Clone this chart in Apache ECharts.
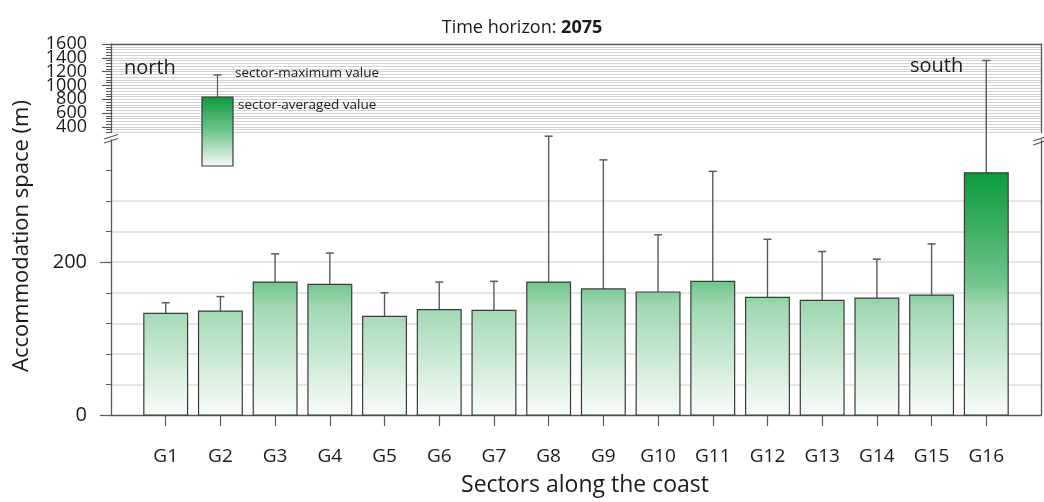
<!DOCTYPE html>
<html>
<head>
<meta charset="utf-8">
<script src="https://cdn.jsdelivr.net/npm/echarts@6/dist/echarts.min.js"></script>
<style>
html,body{margin:0;padding:0;background:#fff;}
#chart{width:1044px;height:502px;}
</style>
</head>
<body>
<div id="chart"></div>
<script>
// ---- data ----
const categories = ['G1','G2','G3','G4','G5','G6','G7','G8','G9','G10','G11','G12','G13','G14','G15','G16'];
const avgValues = [133, 136, 174, 171, 129, 138, 137, 174, 165, 161, 175, 154, 150, 153, 157, 317];
const maxValues = [147, 155, 211, 212, 160, 174, 175, 365, 334, 236, 319, 230, 214, 204, 224, 1360];
const lowerTickValues = [0, 40, 80, 120, 160, 200, 240, 280, 320];
const lowerLabelValues = [0, 200];
const upperLabelValues = [400, 600, 800, 1000, 1200, 1400, 1600];

// ---- layout / axis ranges ----
const LOWER_MIN = 0, LOWER_MAX = 360, LOWER_REACH = 370;
const UPPER_MIN = 320, UPPER_MAX = 1600;
const LEFT = 111, RIGHT = 3;
const UP_TOP = 44, UP_BOTTOM = 132.5;
const LO_TOP = 140, LO_BOTTOM = 416;
const W = 1044, H = 502;

const axisCats = [''].concat(categories, ['']);
const seriesData = categories.map((c, i) => [c, avgValues[i], maxValues[i]]);
const topAvg = Math.max.apply(null, avgValues);

const AXIS_COLOR = '#595959';
const WHISK_COLOR = '#5a5a5a';
const TEXT_COLOR = '#1a1a1a';
const FONT = 'Open Sans';

function capLine(x, y, half) {
  return {type: 'line', shape: {x1: x - half, y1: y, x2: x + half, y2: y},
          style: {stroke: WHISK_COLOR, lineWidth: 1.5}};
}

function renderLower(params, api) {
  const x = api.value(0), avg = api.value(1), mx = api.value(2);
  const p0 = api.coord([x, 0]);
  const pAvg = api.coord([x, avg]);
  const pRef = api.coord([x, topAvg]);
  const w = api.size([1, 0])[0] * 0.8;
  const children = [];
  const reach = Math.min(mx, LOWER_REACH);
  const pMax = api.coord([x, reach]);
  children.push({type: 'line', shape: {x1: p0[0], y1: pAvg[1], x2: p0[0], y2: pMax[1]},
                 style: {stroke: WHISK_COLOR, lineWidth: 1.4}});
  if (mx <= LOWER_REACH) children.push(capLine(p0[0], pMax[1], 4));
  children.push({
    type: 'rect',
    shape: {x: p0[0] - w / 2, y: pAvg[1], width: w, height: p0[1] - pAvg[1]},
    style: {
      fill: {type: 'linear', x: 0, y: p0[1], x2: 0, y2: pRef[1], global: true,
             colorStops: [{offset: 0, color: '#f8fcf9'}, {offset: 0.45, color: '#a0d8b1'},
                          {offset: 0.55, color: '#6fc48c'}, {offset: 1, color: '#0c9a3c'}]},
      stroke: '#3a3a3a', lineWidth: 1.2
    }
  });
  return {type: 'group', children: children};
}

function renderUpper(params, api) {
  const x = api.value(0), mx = api.value(2);
  if (mx <= LOWER_REACH) return {type: 'group', children: []};
  const pb = api.coord([x, UPPER_MIN]);
  const pt = api.coord([x, mx]);
  return {type: 'group', children: [
    {type: 'line', shape: {x1: pb[0], y1: pb[1], x2: pb[0], y2: pt[1]}, style: {stroke: WHISK_COLOR, lineWidth: 1.4}},
    capLine(pb[0], pt[1], 4)
  ]};
}

const tickInterval = function (i) { return i > 0 && i < axisCats.length - 1; };

const chart = echarts.init(document.getElementById('chart'), null, {renderer: 'canvas'});

const option = {
  backgroundColor: '#fff',
  animation: false,
  title: {
    text: '{a|Time horizon: }{b|2075}',
    left: 'center', top: 14,
    textStyle: {fontWeight: 'normal', rich: {
      a: {fontFamily: FONT, fontSize: 18, fontWeight: 'normal', color: TEXT_COLOR},
      b: {fontFamily: FONT, fontSize: 18, fontWeight: 'bold', color: TEXT_COLOR}
    }}
  },
  grid: [
    {left: LEFT, right: RIGHT, top: UP_TOP, height: UP_BOTTOM - UP_TOP},
    {left: LEFT, right: RIGHT, top: LO_TOP, height: LO_BOTTOM - LO_TOP}
  ],
  xAxis: [
    {gridIndex: 0, type: 'category', data: axisCats, boundaryGap: false, position: 'top',
     axisLine: {show: true, lineStyle: {color: AXIS_COLOR, width: 1.3}},
     axisTick: {show: false}, axisLabel: {show: false}, splitLine: {show: false}},
    {gridIndex: 1, type: 'category', data: axisCats, boundaryGap: false, position: 'bottom',
     axisLine: {show: true, lineStyle: {color: AXIS_COLOR, width: 1.3}},
     axisTick: {show: true, interval: tickInterval, length: 11, lineStyle: {color: AXIS_COLOR, width: 1.2}},
     axisLabel: {show: true, interval: tickInterval, margin: 32, fontFamily: FONT, fontSize: 19, color: TEXT_COLOR},
     splitLine: {show: false},
     name: 'Sectors along the coast', nameLocation: 'middle', nameGap: 59,
     nameTextStyle: {fontFamily: FONT, fontSize: 23, color: TEXT_COLOR, padding: [0, 0, 0, 18]}}
  ],
  yAxis: [
    // 0: upper main
    {gridIndex: 0, type: 'value', min: UPPER_MIN, max: UPPER_MAX, interval: 40, position: 'left',
     axisLine: {show: true, lineStyle: {color: AXIS_COLOR, width: 1.3}},
     axisTick: {show: true, length: 5, lineStyle: {color: AXIS_COLOR, width: 1}},
     axisLabel: {show: true, margin: 24, fontFamily: FONT, fontSize: 18, color: TEXT_COLOR, lineHeight: 14,
                 formatter: function (v) { return upperLabelValues.indexOf(v) >= 0 ? String(v) : ''; }},
     splitLine: {show: true, lineStyle: {color: '#d2d2d2', width: 1}}},
    // 1: upper major ticks
    {gridIndex: 0, type: 'value', min: UPPER_MIN, max: UPPER_MAX, position: 'left',
     axisLine: {show: false},
     axisTick: {show: true, length: 9, customValues: upperLabelValues, lineStyle: {color: AXIS_COLOR, width: 1.2}},
     axisLabel: {show: false}, splitLine: {show: false}},
    // 2: upper right frame
    {gridIndex: 0, type: 'value', min: UPPER_MIN, max: UPPER_MAX, position: 'right',
     axisLine: {show: true, lineStyle: {color: AXIS_COLOR, width: 1.3}},
     axisTick: {show: false}, axisLabel: {show: false}, splitLine: {show: false}},
    // 3: lower main
    {gridIndex: 1, type: 'value', min: LOWER_MIN, max: LOWER_MAX, interval: 40, position: 'left',
     axisLine: {show: true, lineStyle: {color: AXIS_COLOR, width: 1.3}},
     axisTick: {show: true, length: 5, customValues: lowerTickValues, lineStyle: {color: AXIS_COLOR, width: 1}},
     axisLabel: {show: true, margin: 24, fontFamily: FONT, fontSize: 20, color: TEXT_COLOR,
                 formatter: function (v) { return lowerLabelValues.indexOf(v) >= 0 ? String(v) : ''; }},
     splitLine: {show: true, showMaxLine: false, showMinLine: false, lineStyle: {color: '#dcdcdc', width: 1.6}}},
    // 4: lower major ticks
    {gridIndex: 1, type: 'value', min: LOWER_MIN, max: LOWER_MAX, position: 'left',
     axisLine: {show: false},
     axisTick: {show: true, length: 11, customValues: lowerLabelValues, lineStyle: {color: AXIS_COLOR, width: 1.2}},
     axisLabel: {show: false}, splitLine: {show: false}},
    // 5: lower right frame
    {gridIndex: 1, type: 'value', min: LOWER_MIN, max: LOWER_MAX, position: 'right',
     axisLine: {show: true, lineStyle: {color: AXIS_COLOR, width: 1.3}},
     axisTick: {show: false}, axisLabel: {show: false}, splitLine: {show: false}}
  ],
  series: [
    {type: 'custom', name: 'upper', xAxisIndex: 0, yAxisIndex: 0, data: seriesData,
     renderItem: renderUpper, encode: {x: 0, y: [2]}, clip: true, z: 3},
    {type: 'custom', name: 'lower', xAxisIndex: 1, yAxisIndex: 3, data: seriesData,
     renderItem: renderLower, encode: {x: 0, y: [1, 2]}, clip: false, z: 3}
  ],
  graphic: {elements: [
    // y-axis title
    {type: 'text', x: 22, y: 236, rotation: Math.PI / 2, z: 100,
     style: {text: 'Accommodation space (m)', fontFamily: FONT, fontSize: 22, fill: TEXT_COLOR,
             align: 'center', verticalAlign: 'middle'}},
    // north / south
    {type: 'text', x: 124, y: 68, z: 100, style: {text: 'north', fontFamily: FONT, fontSize: 20, fill: TEXT_COLOR, verticalAlign: 'middle'}},
    {type: 'text', x: 910, y: 66, z: 100, style: {text: 'south', fontFamily: FONT, fontSize: 20, fill: TEXT_COLOR, verticalAlign: 'middle'}},
    // legend glyph
    {type: 'line', z: 100, shape: {x1: 217.5, y1: 75, x2: 217.5, y2: 97}, style: {stroke: WHISK_COLOR, lineWidth: 1.2}},
    {type: 'line', z: 100, shape: {x1: 213.5, y1: 75, x2: 221.5, y2: 75}, style: {stroke: WHISK_COLOR, lineWidth: 1.5}},
    {type: 'rect', z: 100, shape: {x: 202, y: 97, width: 31, height: 69},
     style: {fill: {type: 'linear', x: 0, y: 0, x2: 0, y2: 1,
                    colorStops: [{offset: 0, color: '#0c9a3c'}, {offset: 0.5, color: '#72c58e'}, {offset: 1, color: '#f8fcf9'}]},
             stroke: '#3a3a3a', lineWidth: 1.2}},
    {type: 'text', x: 235, y: 73, z: 100, style: {text: 'sector-maximum value', fontFamily: FONT, fontSize: 13.5, fill: TEXT_COLOR, verticalAlign: 'middle'}},
    {type: 'text', x: 238, y: 105, z: 100, style: {text: 'sector-averaged value', fontFamily: FONT, fontSize: 13.5, fill: TEXT_COLOR, verticalAlign: 'middle'}},
    // axis break marks
    {type: 'line', z: 100, shape: {x1: 104, y1: 139, x2: 118, y2: 134.5}, style: {stroke: AXIS_COLOR, lineWidth: 1.2}},
    {type: 'line', z: 100, shape: {x1: 104, y1: 143, x2: 118, y2: 138.5}, style: {stroke: AXIS_COLOR, lineWidth: 1.2}},
    {type: 'line', z: 100, shape: {x1: W - RIGHT - 8, y1: 141, x2: W - RIGHT + 4, y2: 137}, style: {stroke: AXIS_COLOR, lineWidth: 1.2}},
    {type: 'line', z: 100, shape: {x1: W - RIGHT - 8, y1: 145, x2: W - RIGHT + 4, y2: 141}, style: {stroke: AXIS_COLOR, lineWidth: 1.2}}
  ]}
};
chart.setOption(option);
</script>
</body>
</html>
